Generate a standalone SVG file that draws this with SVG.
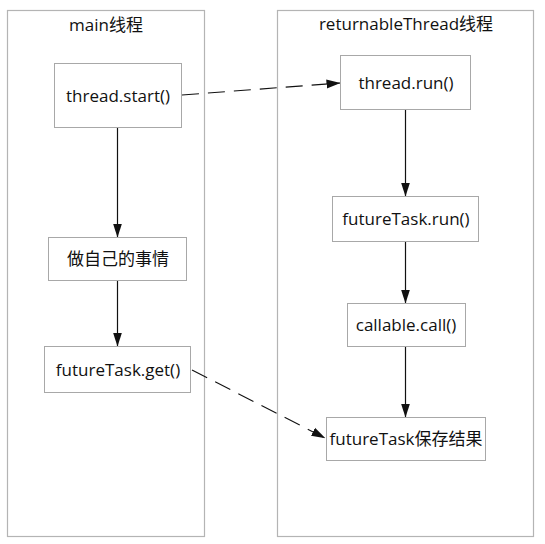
<svg xmlns="http://www.w3.org/2000/svg" width="545" height="544" viewBox="0 0 545 544">
<defs>
<style>
.lane{fill:#fff;stroke:#b4b4b4;stroke-width:1.2}
.box{fill:#fff;stroke:#a8a8a8;stroke-width:1}
text{font-family:"Open Sans","Noto Sans CJK SC",sans-serif;font-size:17px;fill:#111;text-anchor:middle}
.solid{stroke:#111;stroke-width:1.2;fill:none}
.dash{stroke:#111;stroke-width:1.1;fill:none;stroke-dasharray:17 9}
</style>
<marker id="ah" markerWidth="14" markerHeight="12" viewBox="0 0 14 12" refX="13.5" refY="6" orient="auto" markerUnits="userSpaceOnUse">
<path d="M0,1.5 L14,6 L0,10.5 Z" fill="#111"/>
</marker>
</defs>
<rect width="545" height="544" fill="#fff"/>
<g id="lane-main">
<rect class="lane" x="7.5" y="10.5" width="197" height="526"/>
<text x="106" y="31">main线程</text>
</g>
<g id="lane-returnable">
<rect class="lane" x="277.5" y="10.5" width="256" height="526"/>
<text x="406" y="30">returnableThread线程</text>
</g>
<g id="connectors">
<line class="solid" x1="117.5" y1="128" x2="117.5" y2="237" marker-end="url(#ah)"/>
<line class="solid" x1="117.5" y1="281" x2="117.5" y2="346" marker-end="url(#ah)"/>
<line class="solid" x1="405.5" y1="110" x2="405.5" y2="196" marker-end="url(#ah)"/>
<line class="solid" x1="405.5" y1="242" x2="405.5" y2="303" marker-end="url(#ah)"/>
<line class="solid" x1="405.5" y1="347" x2="405.5" y2="417" marker-end="url(#ah)"/>
<line class="dash" x1="182" y1="95" x2="340" y2="83" marker-end="url(#ah)"/>
<line class="dash" x1="192" y1="370" x2="325" y2="438" marker-end="url(#ah)"/>
</g>
<g id="node-thread-start">
<rect class="box" x="54.5" y="63.5" width="127" height="64"/>
<text x="118" y="101.5">thread.start()</text>
</g>
<g id="node-own-work">
<rect class="box" x="48.5" y="237.5" width="138" height="43"/>
<text x="118" y="265">做自己的事情</text>
</g>
<g id="node-future-get">
<rect class="box" x="44.5" y="346.5" width="146" height="46"/>
<text x="118" y="375.5">futureTask.get()</text>
</g>
<g id="node-thread-run">
<rect class="box" x="340.5" y="55.5" width="130" height="54"/>
<text x="406" y="89">thread.run()</text>
</g>
<g id="node-future-run">
<rect class="box" x="332.5" y="196.5" width="146" height="45"/>
<text x="406" y="225">futureTask.run()</text>
</g>
<g id="node-callable">
<rect class="box" x="347.5" y="303.5" width="118" height="43"/>
<text x="406" y="331">callable.call()</text>
</g>
<g id="node-save-result">
<rect class="box" x="326.5" y="417.5" width="159" height="43"/>
<text x="406" y="444.5">futureTask保存结果</text>
</g>
</svg>
